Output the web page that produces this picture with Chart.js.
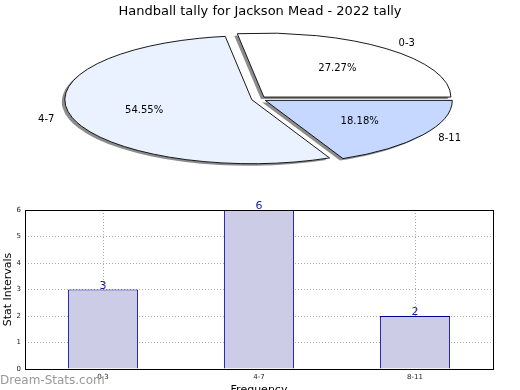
<!DOCTYPE html>
<html>
<head>
<meta charset="utf-8">
<script src="https://cdn.jsdelivr.net/npm/chart.js@4.4.1/dist/chart.umd.min.js"></script>
<style>
  html, body { margin: 0; padding: 0; background: #fff; overflow: hidden; }
  body { width: 520px; height: 390px; position: relative; font-family: "DejaVu Sans", sans-serif; }
  #pieBox { position: absolute; left: 0; top: 0; width: 520px; height: 185px; }
  #barBox { position: absolute; left: 0; top: 195px; width: 520px; height: 205px; }
  #mark { position: absolute; left: 0; top: 373px; font-size: 12px; color: #999; z-index: 2; }
</style>
</head>
<body>
<div id="pieBox"><canvas id="pieChart"></canvas></div>
<div id="barBox"><canvas id="barChart"></canvas></div>
<div id="mark">Dream-Stats.com</div>
<script>
// ===== Data =====
const categories = ["0-3", "4-7", "8-11"];
const counts = [3, 6, 2];
const sliceColors = ["#ffffff", "#eaf1ff", "#c6d8ff"];
const yTicks = [0, 1, 2, 3, 4, 5, 6];

const titleText = "Handball tally for Jackson Mead - 2022 tally";

// ellipse the pie is squashed into (page pixels) + explode fraction
const PIE_CX = 259, PIE_CY = 99, PIE_RX = 187, PIE_RY = 64;
const EXPLODE = 0.04;

Chart.defaults.font.family = "'DejaVu Sans', sans-serif";
Chart.defaults.color = "#000";

// pie drawn counter-clockwise from 3 o'clock, so feed it reversed
const order = categories.map((c, i) => i).reverse();
const total = counts.reduce((a, b) => a + b, 0);

function pieScale(chart) {
  const arc = chart.getDatasetMeta(0).data[0];
  return { arc, sx: PIE_RX / arc.outerRadius, sy: PIE_RY / arc.outerRadius };
}

// each slice pushed out along its middle angle
function explodeArc(el) {
  if (el._exploded) return;
  el._exploded = true;
  el.draw = function(ctx) {
    const mid = (this.startAngle + this.endAngle) / 2;
    const d = EXPLODE * this.outerRadius;
    ctx.save();
    ctx.translate(Math.cos(mid) * d, Math.sin(mid) * d);
    Chart.ArcElement.prototype.draw.call(this, ctx);
    ctx.restore();
  };
}

// squash the circle into an ellipse + drop shadow
const pieShape = {
  id: "pieShape",
  beforeDatasetsDraw(chart) {
    const { arc, sx, sy } = pieScale(chart);
    const ctx = chart.ctx;
    const meta = chart.getDatasetMeta(0);
    meta.data.forEach(explodeArc);

    ctx.save();
    ctx.translate(PIE_CX, PIE_CY);
    ctx.scale(sx, sy);
    ctx.translate(-arc.x, -arc.y);

    // shadow pass (fill only)
    ctx.save();
    ctx.shadowColor = "rgba(0,0,0,0.45)";
    ctx.shadowOffsetX = -3;
    ctx.shadowOffsetY = 2;
    ctx.shadowBlur = 0;
    meta.data.forEach(el => {
      const o = el.options;
      el.options = Object.assign({}, o, { borderWidth: 0 });
      el.draw(ctx);
      el.options = o;
    });
    ctx.restore();

    // strokes in page pixels so the outline stays even
    const stroke = ctx.stroke;
    ctx.stroke = function() {
      const w = this.lineWidth;
      this.save();
      this.setTransform(1, 0, 0, 1, 0, 0);
      this.lineWidth = w;
      stroke.apply(this, arguments);
      this.restore();
    };
  },
  afterDatasetsDraw(chart) {
    const ctx = chart.ctx;
    delete ctx.stroke;
    ctx.restore();
    const { sx, sy } = pieScale(chart);
    const meta = chart.getDatasetMeta(0);
    ctx.save();
    ctx.font = "10px 'DejaVu Sans'";
    ctx.fillStyle = "#000";
    ctx.textBaseline = "middle";
    meta.data.forEach((a, i) => {
      const mid = (a.startAngle + a.endAngle) / 2;
      const at = k => ({
        x: PIE_CX + Math.cos(mid) * (k + EXPLODE) * a.outerRadius * sx,
        y: PIE_CY + Math.sin(mid) * (k + EXPLODE) * a.outerRadius * sy
      });
      const v = chart.data.datasets[0].data[i];
      const p = at(0.6);
      ctx.textAlign = "center";
      ctx.fillText((v / total * 100).toFixed(2) + "%", p.x, p.y);
      const q = at(1.1);
      ctx.textAlign = Math.cos(mid) >= 0 ? "left" : "right";
      ctx.fillText(chart.data.labels[i], q.x, q.y);
    });
    ctx.restore();
  }
};

new Chart(document.getElementById("pieChart"), {
  type: "pie",
  data: {
    labels: order.map(i => categories[i]),
    datasets: [{
      data: order.map(i => counts[i]),
      backgroundColor: order.map(i => sliceColors[i]),
      borderColor: "#000",
      borderWidth: 0.9,
      borderJoinStyle: "miter",
      clip: false
    }]
  },
  options: {
    responsive: true,
    maintainAspectRatio: false,
    animation: false,
    rotation: 90,
    layout: { padding: { top: 0, bottom: 4 } },
    plugins: {
      legend: { display: false },
      tooltip: { enabled: false },
      title: {
        display: true,
        text: titleText,
        font: { size: 13, weight: "normal" },
        color: "#000",
        padding: { top: 4, bottom: 8 }
      }
    }
  },
  plugins: [pieShape]
});

// ===== Bar chart =====
const barExtras = {
  id: "barExtras",
  afterDatasetsDraw(chart) {
    const ctx = chart.ctx;
    const meta = chart.getDatasetMeta(0);
    ctx.save();
    ctx.font = "11px 'DejaVu Sans'";
    ctx.fillStyle = "#1a1aa6";
    ctx.textAlign = "center";
    ctx.textBaseline = "bottom";
    meta.data.forEach((bar, i) => {
      ctx.fillText(String(counts[i]), bar.x, bar.y + 2);
    });
    ctx.restore();
  },
  afterDraw(chart) {
    const { left, top, width, height } = chart.chartArea;
    const ctx = chart.ctx;
    ctx.save();
    ctx.strokeStyle = "#000";
    ctx.lineWidth = 1;
    ctx.strokeRect(Math.round(left) + 0.5, Math.round(top) + 0.5, Math.round(width), Math.round(height));
    ctx.restore();
  }
};

new Chart(document.getElementById("barChart"), {
  type: "bar",
  data: {
    labels: categories,
    datasets: [{
      data: counts,
      backgroundColor: "#ccccE6",
      borderColor: "#000099",
      borderWidth: 1,
      barPercentage: 0.45,
      categoryPercentage: 1
    }]
  },
  options: {
    responsive: true,
    maintainAspectRatio: false,
    animation: false,
    layout: { padding: { top: 15, right: 27, left: 0, bottom: 0 } },
    plugins: { legend: { display: false }, tooltip: { enabled: false } },
    scales: {
      x: {
        z: 1,
        afterFit(scale) { scale.height = 31; },
        grid: { offset: false, color: "#aaa", drawTicks: false },
        border: { display: false, dash: [1, 2] },
        ticks: { font: { size: 7 }, color: "#222", padding: 4 },
        title: { display: true, text: "Frequency", font: { size: 11 }, color: "#000", padding: { top: 0, bottom: 3 } }
      },
      y: {
        z: 1,
        min: yTicks[0],
        max: yTicks[yTicks.length - 1],
        afterFit(scale) { scale.width = 25; },
        afterBuildTicks(scale) { scale.ticks = yTicks.map(v => ({ value: v })); },
        grid: { color: "#aaa", drawTicks: false },
        border: { display: false, dash: [1, 2] },
        ticks: { font: { size: 7 }, color: "#222", padding: 4 },
        title: { display: true, text: "Stat Intervals", font: { size: 11 }, color: "#000", padding: { top: 2, bottom: 2 } }
      }
    }
  },
  plugins: [barExtras]
});
</script>
</body>
</html>
